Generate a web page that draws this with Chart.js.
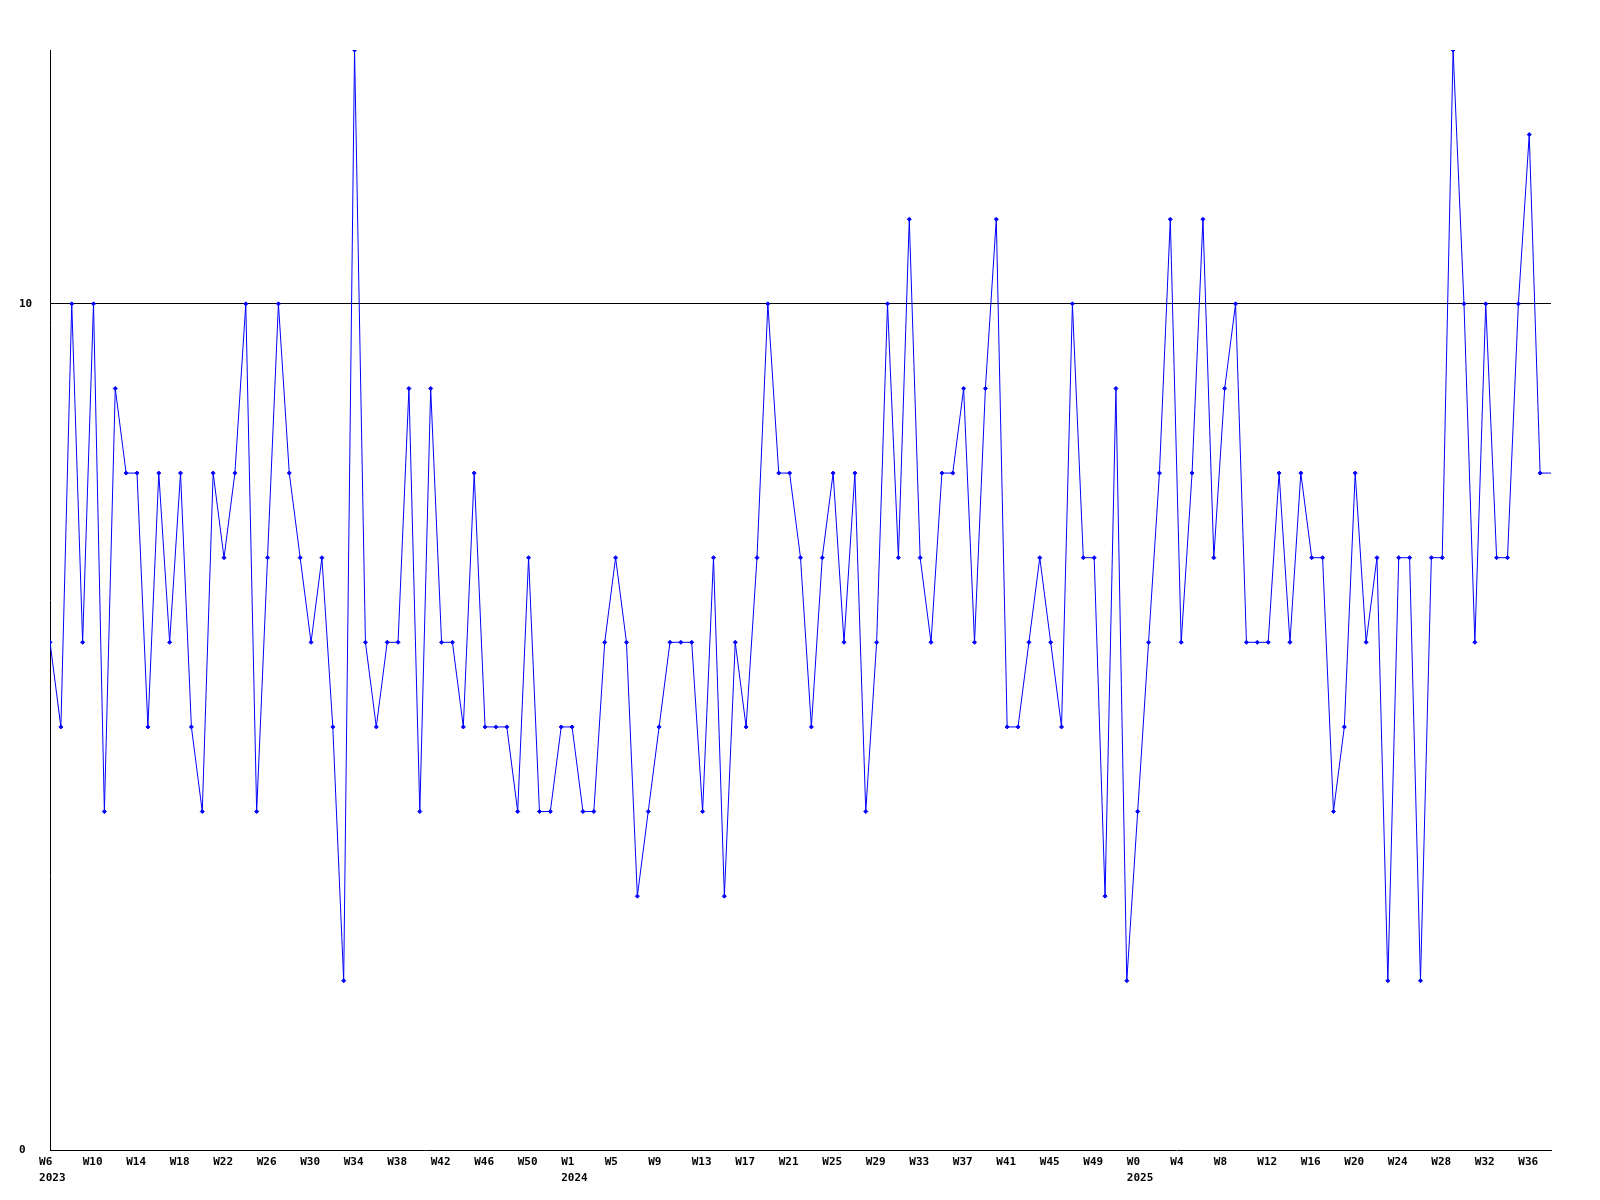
<!DOCTYPE html>
<html>
<head>
<meta charset="utf-8">
<script src="https://cdn.jsdelivr.net/npm/chart.js@4.4.1/dist/chart.umd.min.js"></script>
<style>
  body { margin: 0; background: #fff; }
</style>
</head>
<body>
<canvas id="myChart" width="1600" height="1200"></canvas>
<script>
// weekly counts, one per week starting in early 2023; the last entry is the running (partial) week
var weekValues = [
    6, 5, 10, 6, 10, 4, 9, 8, 8, 5, 8, 6, 8, 5, 4, 8, 7, 8, 10, 4, 7, 10, 8, 7,
    6, 7, 5, 2, 13, 6, 5, 6, 6, 9, 4, 9, 6, 6, 5, 8, 5, 5, 5, 4, 7, 4, 4,
    5, 5, 4, 4, 6, 7, 6, 3, 4, 5, 6, 6, 6, 4, 7, 3, 6, 5, 7, 10, 8, 8, 7,
    5, 7, 8, 6, 8, 4, 6, 10, 7, 11, 7, 6, 8, 8, 9, 6, 9, 11, 5, 5, 6, 7, 6,
    5, 10, 7, 7, 3, 9, 2, 4, 6, 8, 11, 6, 8, 11, 7, 9, 10, 6, 6, 6, 8, 6, 8,
    7, 7, 4, 5, 8, 6, 7, 2, 7, 7, 2, 7, 7, 13, 10, 6, 10, 7, 7, 10, 12, 8,
    8
];

// x axis labels and the week index they start at
var tickWeeks = ['W6', 'W10', 'W14', 'W18', 'W22', 'W26', 'W30', 'W34', 'W38', 'W42', 'W46', 'W50',
                 'W1', 'W5', 'W9', 'W13', 'W17', 'W21', 'W25', 'W29', 'W33', 'W37', 'W41', 'W45', 'W49',
                 'W0', 'W4', 'W8', 'W12', 'W16', 'W20', 'W24', 'W28', 'W32', 'W36'];
var tickYears = ['2023', '', '', '', '', '', '', '', '', '', '', '',
                 '2024', '', '', '', '', '', '', '', '', '', '', '', '',
                 '2025', '', '', '', '', '', '', '', '', ''];
var tickIndex = [-1, 3, 7, 11, 15, 19, 23, 27, 31, 35, 39, 43,
                 47, 51, 55, 59, 63, 67, 71, 75, 79, 83, 87, 91, 95,
                 99, 103, 107, 111, 115, 119, 123, 127, 131, 135];
var yTicks = [0, 10];
var yMax = 13;

Chart.defaults.font.family = '"DejaVu Sans Mono", monospace';
Chart.defaults.font.size = 11;
Chart.defaults.font.weight = 'bold';
Chart.defaults.color = '#000';

var points = weekValues.map(function (v, i) { return { x: i, y: v }; });
// no marker on the running week
var radii = weekValues.map(function (v, i) { return i === weekValues.length - 1 ? 0 : 2; });

var ctx = document.getElementById('myChart').getContext('2d');
var chart = new Chart(ctx, {
    type: 'line',
    data: {
        datasets: [{
            data: points,
            borderColor: '#0000ff',
            borderWidth: 1,
            tension: 0,
            pointStyle: 'rectRot',
            pointRadius: radii,
            pointBackgroundColor: '#0000ff',
            pointBorderColor: '#0000ff',
            pointBorderWidth: 1
        }]
    },
    options: {
        responsive: false,
        animation: false,
        layout: { padding: { left: 19, top: 50, right: 49, bottom: 0 } },
        plugins: { legend: { display: false }, tooltip: { enabled: false } },
        scales: {
            x: {
                type: 'linear',
                min: 0,
                max: weekValues.length - 1,
                grid: { display: false },
                border: { display: true, color: '#000', width: 1 },
                afterBuildTicks: function (scale) {
                    scale.ticks = tickIndex.map(function (v) { return { value: v }; });
                },
                afterFit: function (scale) { scale.height = 50; },
                ticks: {
                    autoSkip: false,
                    maxRotation: 0,
                    minRotation: 0,
                    align: 'start',
                    padding: -4,
                    font: { lineHeight: 1.45 },
                    callback: function (value, index) {
                        return tickYears[index] ? [tickWeeks[index], tickYears[index]] : tickWeeks[index];
                    }
                }
            },
            y: {
                min: 0,
                max: yMax,
                grid: {
                    drawTicks: false,
                    color: function (c) { return c.tick && c.tick.value === 10 ? '#000' : 'rgba(0,0,0,0)'; },
                    lineWidth: 1
                },
                border: { display: true, color: '#000', width: 1 },
                afterBuildTicks: function (scale) {
                    scale.ticks = yTicks.map(function (v) { return { value: v }; });
                },
                afterFit: function (scale) { scale.width = 31; },
                ticks: {
                    crossAlign: 'far',
                    callback: function (value) { return String(value); }
                }
            }
        }
    }
});
</script>
</body>
</html>
